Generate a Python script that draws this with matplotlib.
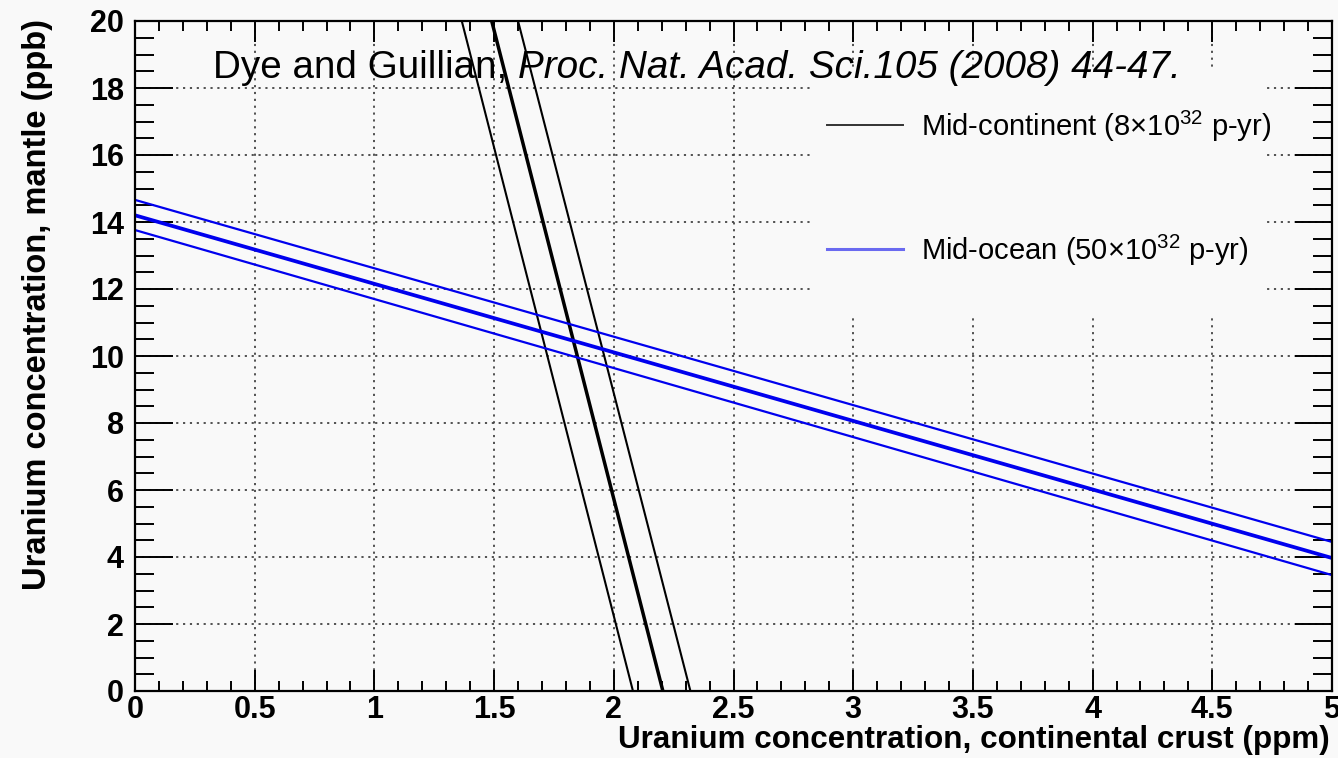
import matplotlib
matplotlib.use("Agg")
import matplotlib.pyplot as plt
from matplotlib.ticker import MultipleLocator, FixedLocator, FuncFormatter
from matplotlib.lines import Line2D
from matplotlib.patches import Rectangle

plt.rcParams['font.family'] = ['Liberation Sans', 'DejaVu Sans']
plt.rcParams['mathtext.fontset'] = 'custom'
plt.rcParams['mathtext.rm'] = 'Liberation Sans'
plt.rcParams['mathtext.it'] = 'Liberation Sans:italic'
plt.rcParams['mathtext.bf'] = 'Liberation Sans:bold'

# ---------------- data ----------------
# Mid-continent band: x (crust ppm) at mantle = 0 and mantle = 20 ppb
cont_y = [0, 20]
cont_center_x = [2.205, 1.49]
cont_low_x = [2.08, 1.365]
cont_high_x = [2.32, 1.60]

# Mid-ocean band: mantle (ppb) at crust = 0 and crust = 5 ppm
ocean_x = [0, 5]
ocean_center_y = [14.20, 3.97]
ocean_low_y = [13.76, 3.46]
ocean_high_y = [14.66, 4.45]

x_ticks = [0, 0.5, 1, 1.5, 2, 2.5, 3, 3.5, 4, 4.5, 5]
y_ticks = [0, 2, 4, 6, 8, 10, 12, 14, 16, 18, 20]

legend_labels = [r"Mid-continent (8$\times$10$^{32}$ p-yr)",
                 r"Mid-ocean (50$\times$10$^{32}$ p-yr)"]
title_regular = "Dye and Guillian, "
title_italic = "Proc. Nat. Acad. Sci.105 (2008) 44-47."
x_label = "Uranium concentration, continental crust (ppm)"
y_label = "Uranium concentration, mantle (ppb)"

# ---------------- figure ----------------
W, H = 1338, 771
BG = '#f9f9f9'
fig = plt.figure(figsize=(W / 100, H / 100), dpi=100, facecolor=BG)
# white strip at the very bottom of the picture
fig.patches.append(Rectangle((0, 0), 1, 13 / H, transform=fig.transFigure,
                             facecolor='white', edgecolor='none', zorder=-1))

ax = fig.add_axes([135 / W, (H - 691) / H, (1332 - 135) / W, (691 - 21) / H])
ax.set_facecolor(BG)
ax.set_xlim(0, 5)
ax.set_ylim(0, 20)

# band lines
ax.plot(cont_low_x, cont_y, color='black', lw=1.5, zorder=3)
ax.plot(cont_high_x, cont_y, color='black', lw=1.5, zorder=3)
ax.plot(cont_center_x, cont_y, color='black', lw=2.5, zorder=3)
ax.plot(ocean_x, ocean_low_y, color='#0000ee', lw=1.6, zorder=3)
ax.plot(ocean_x, ocean_high_y, color='#0000ee', lw=1.6, zorder=3)
ax.plot(ocean_x, ocean_center_y, color='#0000ee', lw=2.7, zorder=3)

# ticks
ax.xaxis.set_major_locator(FixedLocator(x_ticks))
ax.yaxis.set_major_locator(FixedLocator(y_ticks))
ax.xaxis.set_minor_locator(MultipleLocator(0.1))
ax.yaxis.set_minor_locator(MultipleLocator(0.5))
fmt = FuncFormatter(lambda v, p: "%g" % v)
ax.xaxis.set_major_formatter(fmt)
ax.yaxis.set_major_formatter(fmt)
ax.tick_params(which='both', direction='in', top=True, right=True,
               color='black', width=1.4)
ax.tick_params(axis='x', which='major', length=15, pad=3)
ax.tick_params(axis='x', which='minor', length=7.5)
ax.tick_params(axis='y', which='major', length=27, pad=8)
ax.tick_params(axis='y', which='minor', length=14)
for lab in ax.get_xticklabels() + ax.get_yticklabels():
    lab.set_fontsize(22)
    lab.set_fontweight('bold')
for s in ax.spines.values():
    s.set_linewidth(1.6)
    s.set_zorder(5)

ax.set_axisbelow(True)
ax.grid(True, which='major', linestyle=(0, (1.2, 2.6)), color='#444444', lw=1.3)

# legend area covering the grid
ax.add_patch(Rectangle((2.82 / 5, (11.2) / 20), (4.71 - 2.82) / 5, (18.6 - 11.2) / 20,
                       transform=ax.transAxes, facecolor=BG, edgecolor='none', zorder=1))

handles = [Line2D([], [], color='#333333', lw=1.4),
           Line2D([], [], color='#6a6af0', lw=2.2)]
leg = ax.legend(handles, legend_labels, loc='center left',
                bbox_to_anchor=((827 - 135) / 1197, (691 - 188) / 670),
                frameon=False, fontsize=21, borderpad=0, borderaxespad=0,
                handlelength=2.6, handletextpad=0.62, labelspacing=3.05)
leg.set_zorder(6)

# axis titles (ROOT-like, right / top aligned)
ax.set_xlabel(x_label, loc='right', fontsize=22.6, fontweight='bold')
ax.xaxis.set_label_coords(1330 / 1197 - 135 / 1197, (691 - 725) / 670)
ax.text((38 - 135) / 1197, 1.0 + 2 / 670, y_label, rotation=90, ha='center', va='top',
        fontsize=23.5, fontweight='bold', transform=ax.transAxes)

# citation text
fig.canvas.draw()
r = fig.canvas.get_renderer()
t1 = fig.text(213 / W, 1 - 78 / H, title_regular, fontsize=27.8, va='baseline', ha='left')
bb = t1.get_window_extent(renderer=r)
fig.text(bb.x1 / W, 1 - 78 / H, title_italic, fontsize=27.8, va='baseline', ha='left',
         style='italic')

fig.savefig("out.png", dpi=100, facecolor=BG)
